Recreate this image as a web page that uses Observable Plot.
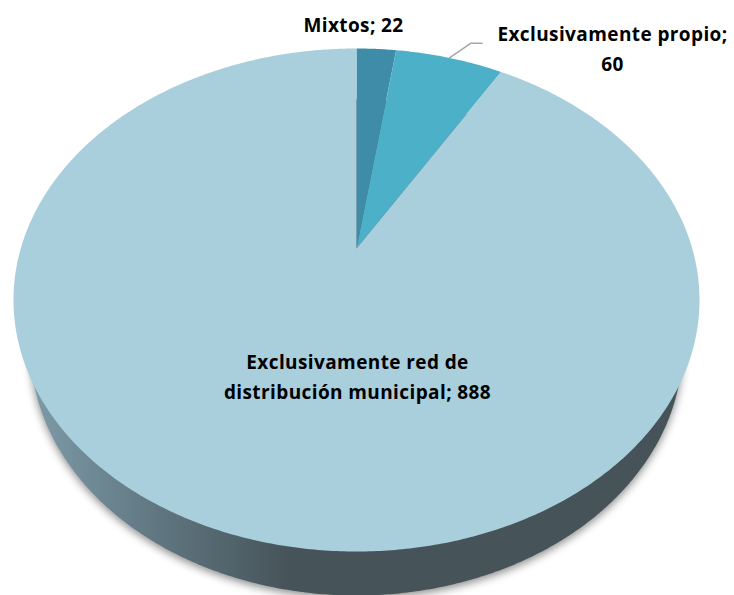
<!DOCTYPE html>
<html>
<head>
<meta charset="utf-8">
<style>html,body{margin:0;padding:0;background:#fff;overflow:hidden}svg{display:block}</style>
<script src="https://cdn.jsdelivr.net/npm/d3@7"></script>
<script src="https://cdn.jsdelivr.net/npm/@observablehq/plot@0.6"></script>
</head>
<body>
<script>
const categories = ["Mixtos", "Exclusivamente propio", "Exclusivamente red de distribución municipal"];
const values = [22, 60, 888];
const colors = ["#3E8CA7", "#4DB0C9", "#A9CEDC"];
const labels = ["Mixtos; 22", "Exclusivamente propio;\n60", "Exclusivamente red de\ndistribución municipal; 888"];
const labelX = [353, 612, 357];
const labelY = [22, 45.5, 374];

// Perspective view of a tilted disc: angle (0 = top, clockwise) to page position
const cx = 356, topY = 48, apexY = 248, bottomY = 551, widest = 343;
const persp = (bottomY - apexY - (apexY - topY)) / (bottomY - topY);
const A = topY * persp - (apexY - topY);
const D = widest * Math.sqrt(1 - persp * persp);
function onDisc(a) {
  const u = Math.sin(a), v = Math.cos(a), w = 1 + persp * v;
  return {x: cx + D * u / w, y: (A * v + apexY) / w};
}

const total = d3.sum(values);
const angles = [0, ...d3.cumsum(values)].map((d) => d / total * 2 * Math.PI);
const step = Math.PI / 360;

const wedges = categories.flatMap((category, i) => {
  const a0 = angles[i], a1 = angles[i + 1];
  const n = Math.max(2, Math.ceil((a1 - a0) / step));
  const rim = d3.range(n + 1).map((k) => onDisc(a0 + (a1 - a0) * k / n));
  return [{x: cx, y: apexY}, ...rim, {x: cx, y: apexY}].map((p) => ({...p, category}));
});

// Rim of the pie: the lower disc seen under the top face
const baseCy = 347;
const base = d3.range(0, 721).map((k) => {
  const a = k * step;
  return {x: cx + 326 * Math.sin(a), y: baseCy - 248 * Math.cos(a)};
});

const mid = (angles[1] + angles[2]) / 2;
const leaderStart = onDisc(mid);
const leader = [leaderStart, {x: 470.5, y: 42.7}, {x: 481.5, y: 42.7}];

const table = categories.map((category, i) => ({category, label: labels[i], x: labelX[i], y: labelY[i]}));

const defs = () => {
  const g = d3.create("svg:g");
  const lg = g.append("defs").append("linearGradient")
    .attr("id", "sideGradient").attr("gradientUnits", "userSpaceOnUse")
    .attr("x1", 30).attr("x2", 290).attr("y1", 0).attr("y2", 0);
  lg.append("stop").attr("offset", "0%").attr("stop-color", "#7D9BA8");
  lg.append("stop").attr("offset", "50%").attr("stop-color", "#5F7680");
  lg.append("stop").attr("offset", "100%").attr("stop-color", "#465359");
  return g.node();
};

const chart = Plot.plot({
  width: 734, height: 595,
  margin: 0,
  style: {background: "#fff", letterSpacing: "0.4px"},
  x: {domain: [0, 734], range: [0, 734], axis: null},
  y: {domain: [0, 595], range: [0, 595], axis: null},
  color: {domain: categories, range: colors},
  marks: [
    defs,
    Plot.line(base, {x: "x", y: "y", fill: "url(#sideGradient)", stroke: "none",
      imageFilter: "drop-shadow(0px 3px 4px rgba(0,0,0,0.45))"}),
    Plot.line(wedges, {x: "x", y: "y", z: "category", fill: "category", stroke: "none"}),
    Plot.line(leader, {x: "x", y: "y", stroke: "#A6A6A6", strokeWidth: 1.5}),
    Plot.text(table, {x: "x", y: "y", text: "label", textAnchor: "middle", lineAnchor: "middle",
      fontFamily: "Open Sans", fontWeight: "bold", fontSize: 19, lineHeight: 1.58, fill: "#000"})
  ]
});
document.body.appendChild(chart);
</script>
</body>
</html>
